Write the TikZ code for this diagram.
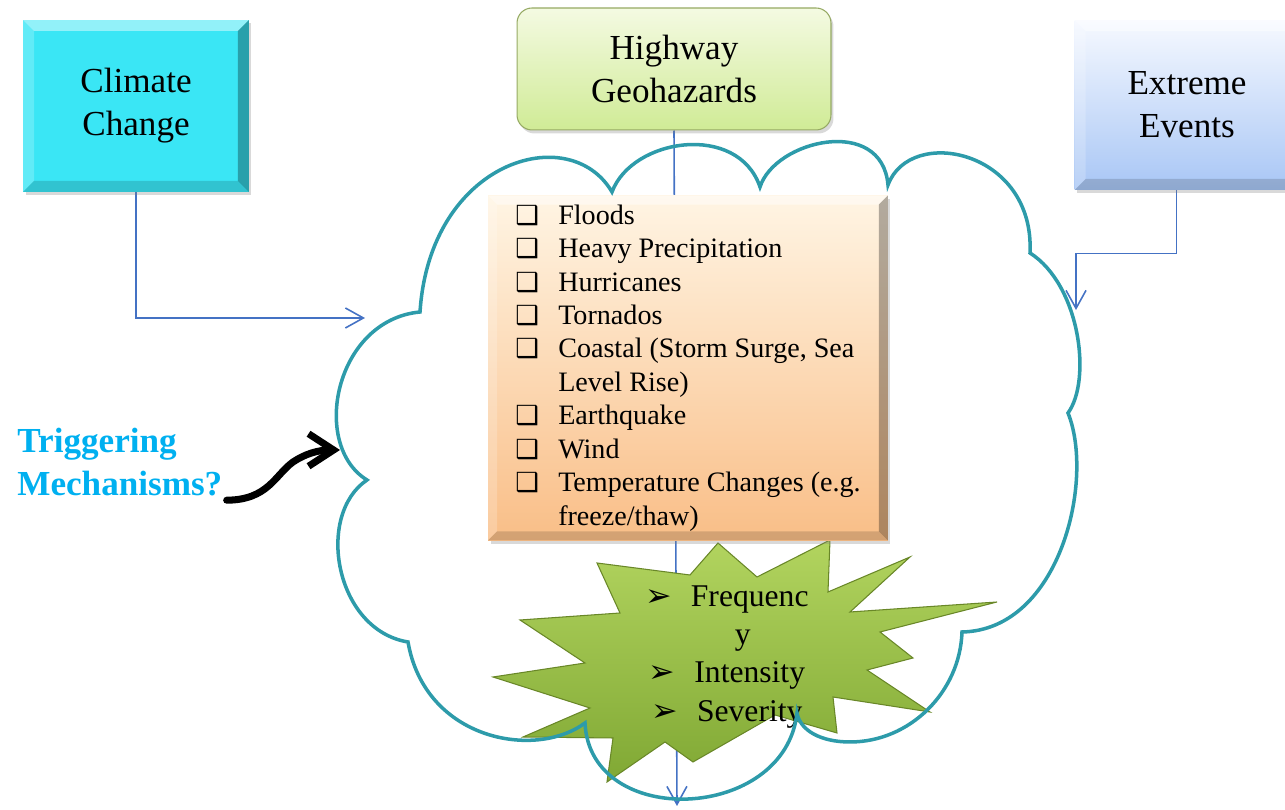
\documentclass[tikz,border=0pt]{standalone}
\usepackage{fontspec}
\setmainfont{Liberation Serif}
\newfontfamily\dingfont{DejaVu Sans}
\usepackage{tikz}
\usetikzlibrary{positioning,backgrounds,calc,shadows}
\usetikzlibrary{arrows.meta}
\definecolor{linkblue}{RGB}{68,114,196}
\definecolor{cloudteal}{RGB}{45,155,170}
\definecolor{climatecyan}{RGB}{58,230,245}
\definecolor{hwtop}{RGB}{244,250,226}
\definecolor{hwbottom}{RGB}{208,235,150}
\definecolor{hwedge}{RGB}{150,170,100}
\definecolor{extop}{RGB}{246,249,255}
\definecolor{exbottom}{RGB}{168,198,245}
\definecolor{listtop}{RGB}{255,245,228}
\definecolor{listbottom}{RGB}{249,190,135}
\definecolor{bursttop}{RGB}{178,212,95}
\definecolor{burstbottom}{RGB}{128,168,52}
\definecolor{burstedge}{RGB}{105,135,40}
\definecolor{triggerblue}{RGB}{0,176,240}
\tikzset{>={Straight Barb[length=3.6mm,width=4mm]}}
\tikzset{
  bevel/.style={path picture={
      \coordinate (bnw) at (path picture bounding box.north west);
      \coordinate (bne) at (path picture bounding box.north east);
      \coordinate (bsw) at (path picture bounding box.south west);
      \coordinate (bse) at (path picture bounding box.south east);
      \fill[white,opacity=.45] (bnw) -- (bne) -- ([shift={(-#1,-#1)}]bne) -- ([shift={(#1,-#1)}]bnw) -- cycle;
      \fill[white,opacity=.2] (bnw) -- (bsw) -- ([shift={(#1,#1)}]bsw) -- ([shift={(#1,-#1)}]bnw) -- cycle;
      \fill[black,opacity=.3] (bne) -- (bse) -- ([shift={(-#1,#1)}]bse) -- ([shift={(-#1,-#1)}]bne) -- cycle;
      \fill[black,opacity=.15] (bsw) -- (bse) -- ([shift={(-#1,#1)}]bse) -- ([shift={(#1,#1)}]bsw) -- cycle;
  }},
  bevel/.default=0.22cm,
  softshadow/.style={drop shadow={shadow xshift=.05cm,shadow yshift=-.07cm,opacity=.3}},
  topic/.style={rectangle, inner sep=0pt, align=center, font=\fontsize{20}{24.4}\selectfont, softshadow},
  link/.style={draw=linkblue, line width=0.9pt},
  burst/.style={draw=burstedge, line width=0.6pt, top color=bursttop, bottom color=burstbottom, line join=miter},
  cloudline/.style={draw=cloudteal, line width=2pt},
  trigger/.style={font=\bfseries\fontsize{20}{24.4}\selectfont, text=triggerblue, align=left, inner sep=0pt},
  trigarrow/.style={line width=4pt, line cap=round, -{Straight Barb[length=5mm,width=6.5mm]}}
}
\newcommand{\qbox}{{\dingfont\fontsize{15}{15}\selectfont ❑}}
\newcommand{\harrow}{{\dingfont\fontsize{18}{18}\selectfont ➢}}

\begin{document}
\begin{tikzpicture}[x=0.02cm,y=0.02cm]
  \useasboundingbox (0,0) rectangle (1285,810);

  % top row
  \node[topic,bevel,fill=climatecyan,minimum width=4.52cm,minimum height=3.44cm] (climate) at (136,704) {Climate\\Change};
  \node[topic,rounded corners=0.3cm,draw=hwedge,line width=0.6pt,top color=hwtop,bottom color=hwbottom,
        minimum width=6.28cm,minimum height=2.44cm] (highway) at (674,741) {Highway\\Geohazards};
  \node[topic,bevel,top color=extop,bottom color=exbottom,minimum width=4.5cm,minimum height=3.4cm] (extreme) at (1187,705) {Extreme\\Events};

  \coordinate (climateIn) at (365,492);
  \coordinate (extremeIn) at (1076,500);
  \coordinate (hazardOut) at (677,4);
  \coordinate (trigTip) at (340,360);

  % starburst
  \draw[burst] (718,267) -- (757,233) -- (830,270) -- (828,218) -- (910,253) -- (850,198)
    -- (997,208) -- (880,178) -- (913,152) -- (867,140) -- (930,98) -- (833,113)
    -- (837,77) -- (775,95) -- (693,48) -- (665,68) -- (607,28) -- (613,72)
    -- (523,73) -- (590,102) -- (493,133) -- (585,147) -- (520,190) -- (620,197)
    -- (597,247) -- (690,235) -- cycle;
  \node[font=\fontsize{18}{21.7}\selectfont, align=center] (impact) at (727,153)
    {\harrow\hspace{0.6em}Frequenc\\ \hspace{1em}y\\ \harrow\hspace{0.6em}Intensity\\ \harrow\hspace{0.6em}Severity};

  % list of hazards
  \node[rectangle,inner sep=0pt,softshadow,bevel=0.18cm,top color=listtop,bottom color=listbottom,
        minimum width=8cm,minimum height=6.9cm,font=\fontsize{16}{19.05}\selectfont] (hazards) at (688,442) {%
    \begin{tabular}{@{}l@{\hspace{11pt}}l@{}}
      \qbox & Floods\\
      \qbox & Heavy Precipitation\\
      \qbox & Hurricanes\\
      \qbox & Tornados\\
      \qbox & Coastal (Storm Surge, Sea\\
            & Level Rise)\\
      \qbox & Earthquake\\
      \qbox & Wind\\
      \qbox & Temperature Changes (e.g.\\
            & freeze/thaw)
    \end{tabular}};

  % cloud
  \draw[cloudline]
    (420,498) .. controls (430,650) and (570,690) .. (612,618)
    .. controls (632,672) and (738,688) .. (760,623)
    .. controls (775,670) and (882,695) .. (888,625)
    .. controls (910,685) and (1035,660) .. (1030,557)
    .. controls (1080,525) and (1092,430) .. (1068,397)
    .. controls (1095,330) and (1060,180) .. (962,178)
    .. controls (960,118) and (910,68) .. (850,68)
    .. controls (820,68) and (800,80) .. (797,97)
    .. controls (785,-12) and (590,-20) .. (585,87)
    .. controls (535,50) and (425,70) .. (408,168)
    .. controls (335,180) and (315,295) .. (367,330)
    .. controls (310,365) and (335,490) .. cycle;

  % triggering
  \node[trigger,anchor=west] (trigger) at (17,348) {Triggering\\Mechanisms?};
  \draw[trigarrow] ([shift={(4,-4)}]trigger.south east) .. controls (268,310) and (275,335) .. (293,348)
    .. controls (305,356) and (318,360) .. (trigTip);

  \begin{scope}[on background layer]
    \draw[link,->] (climate.south) |- (climateIn);
    \draw[link,->] ([xshift=-0.21cm]extreme.south) -- ++(0,-63) -| (extremeIn);
    \draw[link,->] (highway.south) -- (hazardOut);
  \end{scope}
\end{tikzpicture}
\end{document}
